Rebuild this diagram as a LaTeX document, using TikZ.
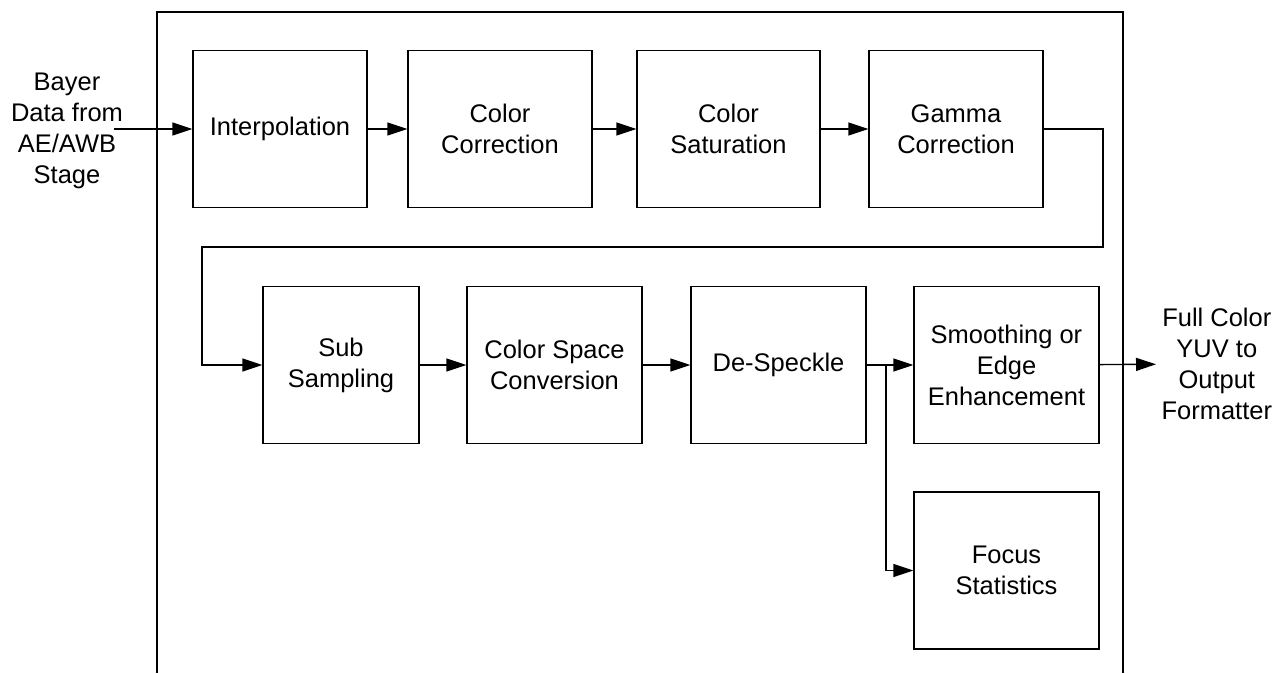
\documentclass[tikz,border=0pt]{standalone}
\usepackage{fontspec}
\setmainfont{Liberation Sans}
\usetikzlibrary{arrows.meta, positioning}

\begin{document}
\begin{tikzpicture}[x=0.02cm,y=-0.02cm,
    blk/.style={draw,line width=0.8pt,minimum height=3.14cm,inner sep=0pt,align=center,font=\fontsize{14.5}{17.6}\selectfont},
    lbl/.style={inner xsep=3pt,inner ysep=1pt,align=center,font=\fontsize{14.5}{17.6}\selectfont},
    flow/.style={line width=0.8pt,-{Triangle[length=0.4cm,width=0.26cm]}}]
    \useasboundingbox (0,0) rectangle (1285,673);
    \draw[line width=1pt] (157,673) -- (157,12) -- (1123,12) -- (1123,673);
    \node[blk,minimum width=3.48cm](interp) at (280,129) {Interpolation};
    \node[blk,minimum width=3.68cm](colcorr) at (500,129) {Color\\Correction};
    \node[blk,minimum width=3.66cm](colsat) at (728.5,129) {Color\\Saturation};
    \node[blk,minimum width=3.48cm](gamma) at (956,129) {Gamma\\Correction};
    \node[blk,minimum width=3.12cm](subsamp) at (341,365) {Sub\\Sampling};
    \node[blk,minimum width=3.5cm](csc) at (554.5,365) {Color Space\\Conversion};
    \node[blk,minimum width=3.5cm](despeckle) at (778.5,365) {De-Speckle};
    \node[blk,minimum width=3.7cm](smooth) at (1006.5,365) {Smoothing or\\Edge\\Enhancement};
    \node[blk,minimum width=3.7cm](focus) at (1006.5,570.5) {Focus\\Statistics};
    \node[lbl](bayer) at (67,131) {Bayer\\Data from\\AE/AWB\\Stage};
    \node[lbl,anchor=west](fullcolor) at (1156,364) {Full Color\\YUV to\\Output\\Formatter};
    \coordinate (bayerin) at (114,129);
    \coordinate (loopr) at (1103,247);
    \coordinate (loopl) at (202,247);
    \coordinate (branch) at (886,365);
    \draw[flow] (bayerin) -- (interp.west);
    \draw[flow] (interp) -- (colcorr);
    \draw[flow] (colcorr) -- (colsat);
    \draw[flow] (colsat) -- (gamma);
    \draw[flow] (gamma.east) -| (loopr) -- (loopl) |- (subsamp.west);
    \draw[flow] (subsamp) -- (csc);
    \draw[flow] (csc) -- (despeckle);
    \draw[flow] (despeckle) -- (smooth);
    \draw[flow] (branch) |- (focus.west);
    \draw[flow] (smooth) -- (fullcolor);
\end{tikzpicture}
\end{document}
